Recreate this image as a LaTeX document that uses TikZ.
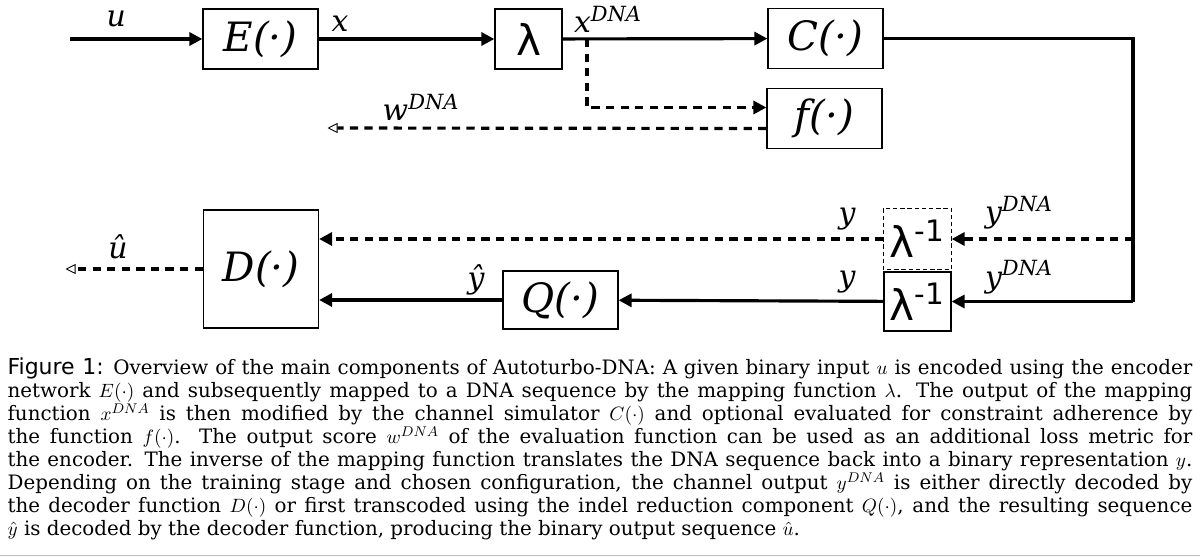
\documentclass[tikz,border=0pt]{standalone}
\usepackage[no-math]{fontspec}
\setmainfont{DejaVu Serif}
\setsansfont{DejaVu Sans}
\usetikzlibrary{arrows.meta, positioning}
\tikzset{block/.style={draw, line width=0.7pt, minimum width=2.3cm, minimum height=1.2cm, inner sep=0pt, font=\fontsize{23}{23}\selectfont\itshape},
  mapbox/.style={block, minimum width=1.34cm, font=\fontsize{24}{24}\selectfont\sffamily},
  sig/.style={line width=1.8pt, -{Triangle[length=0.26cm, width=0.26cm]}},
  opt/.style={sig, dash pattern=on 4.7pt off 3.6pt},
  outp/.style={line width=1.8pt, dash pattern=on 4.7pt off 3.6pt, -{Triangle[open, length=0.2cm, width=0.2cm, line width=0.5pt, sep=2pt]}},
  lbl/.style={inner sep=0pt, font=\fontsize{17}{17}\selectfont\itshape}}
\newcommand{\capfont}{\fontsize{11.3}{13.1}\selectfont\lineskiplimit=-20pt\hyphenpenalty=10000\relax}

\begin{document}
\begin{tikzpicture}[x=0.02cm, y=-0.02cm]
            \useasboundingbox (0,0) rectangle (1200,557);
            % forward path
            \node[block] (enc) at (260.5,39) {E(·)};
            \node[mapbox] (map) at (528.5,39) {λ};
            \node[block] (chan) at (825.5,38.5) {C(·)};
            \node[block] (eval) at (824.5,118.5) {f(·)};
            % backward path
            \node[block, minimum height=2.36cm] (dec) at (261,269) {D(·)};
            \node[block, minimum height=1.16cm] (red) at (560.5,300) {Q(·)};
            \node[mapbox, draw=none] (invopt) at (917.5,239) {λ\textsuperscript{-1}};
            \draw[line width=0.5pt, dash pattern=on 2.5pt off 1.6pt] (invopt.north west) rectangle (invopt.south east);
            \node[mapbox, minimum height=1.18cm] (inv) at (917.5,301.5) {λ\textsuperscript{-1}};
            \coordinate (in) at (70,39);
            \coordinate (split) at (587,39);
            \coordinate (wout) at (324,128);
            \coordinate (uout) at (62,269);
            \coordinate (rtop) at (1133,239);
            \coordinate (rbot) at (1133,301.5);

            \draw[sig] (in) -- node[lbl, above=6pt, pos=0.35]{u} (enc);
            \draw[sig] (enc) -- (map);
            \node[lbl, anchor=base] (xlbl) at (340,32) {x};
            \draw[sig] (map) -- (chan);
            \node[lbl, anchor=base] (xdna) at (608,33) {x\textsuperscript{DNA}};
            \draw[opt] (split) |- ([yshift=0.22cm]eval.west);
            \draw[outp] ([yshift=-0.2cm]eval.west) -- (wout);
            \node[lbl, anchor=base] (wdna) at (421,121) {w\textsuperscript{DNA}};
            \draw[line width=1.8pt] (chan.east) -| (rbot);
            \draw[sig] (rbot) -- (inv);
            \draw[opt] (rtop) -- (invopt);
            \draw[opt] (invopt) -- (dec.east |- invopt);
            \draw[sig] (inv) -- (red);
            \draw[sig] (red) -- (dec.east |- red);
            \draw[outp] (dec) -- (uout);
            \node[lbl, anchor=base] (uhat) at (118,258) {û};
            \node[lbl, anchor=base] (yhat) at (476,289) {ŷ};
            \node[lbl, anchor=base] (ytop) at (847,224) {y};
            \node[lbl, anchor=base] (ybot) at (847,286) {y};
            \node[lbl, anchor=base] (ydnatop) at (1019,223) {y\textsuperscript{DNA}};
            \node[lbl, anchor=base] (ydnabot) at (1019,287) {y\textsuperscript{DNA}};

            % caption
            \node[anchor=north, text width=23.7cm, align=justify, inner sep=0pt, font=\capfont] (caption) at (600,357) {{\sffamily\fontsize{12.5}{13.1}\selectfont Figure 1:} Overview of the main components of Autoturbo-DNA: A given binary input $u$ is encoded using the encoder\linebreak
            network $E(\cdot)$ and subsequently mapped to a DNA sequence by the mapping function $\lambda$. The output of the mapping\linebreak
            function $x^{DNA}$ is then modified by the channel simulator $C(\cdot)$ and optional evaluated for constraint adherence by\linebreak
            the function $f(\cdot)$. The output score $w^{DNA}$ of the evaluation function can be used as an additional loss metric for\linebreak
            the encoder. The inverse of the mapping function translates the DNA sequence back into a binary representation $y$.\linebreak
            Depending on the training stage and chosen configuration, the channel output $y^{DNA}$ is either directly decoded by\linebreak
            the decoder function $D(\cdot)$ or first transcoded using the indel reduction component $Q(\cdot)$, and the resulting sequence\linebreak
            $\hat{y}$ is decoded by the decoder function, producing the binary output sequence $\hat{u}$.};
            \draw[gray!50, line width=0.8pt] (0,555.5) -- (1200,555.5);
      \end{tikzpicture}
\end{document}
